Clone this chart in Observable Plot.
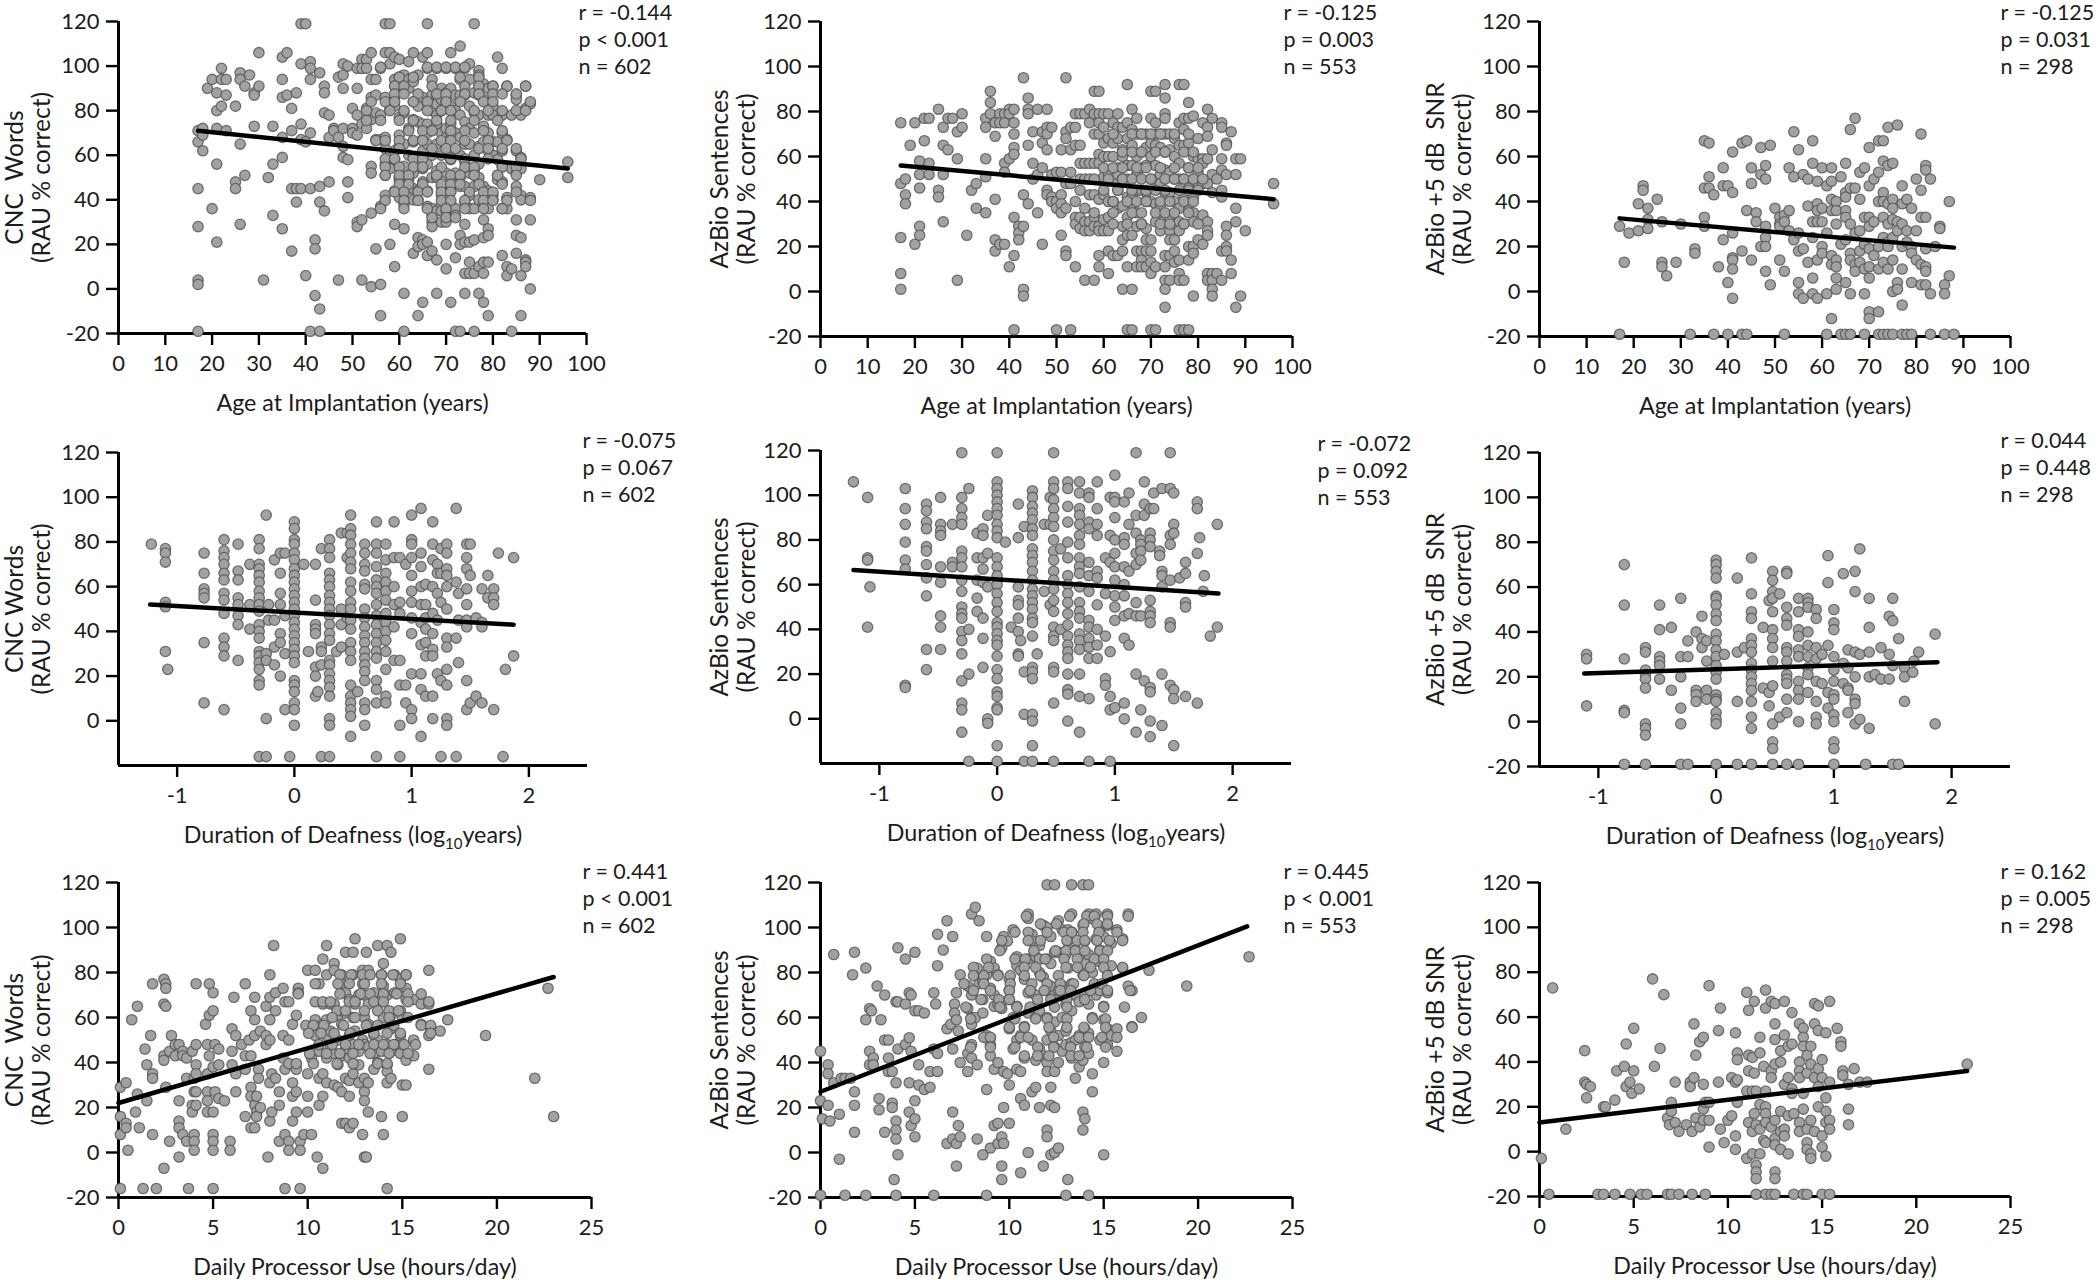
<!DOCTYPE html>
<html>
<head>
<meta charset="utf-8">
<script src="https://cdn.jsdelivr.net/npm/d3@7"></script>
<script src="https://cdn.jsdelivr.net/npm/@observablehq/plot@0.6"></script>
<style>
html,body{margin:0;padding:0;background:#fff}
#root{position:relative;width:2100px;height:1280px;overflow:hidden;background:#fff}
#root svg{position:absolute;overflow:visible;background:transparent}
</style>
</head>
<body>
<div id="root"></div>
<script>
// Each series: [x value, [y values read at that x]]
const cncAge=[[17,[71,66,45,28,4,2,-19]],[18,[72,69,62]],[19,[90]],[20,[94,36]],[21,[88,80,72,56,21]],[22,[99,94,82]],[23,[94,87,71]],[25,[82,48,45]],[26,[97,94,65,29]],[27,[91,51]],[28,[96]],[29,[88,87,73]],[30,[106,91]],[31,[4]],[32,[50]],[33,[73,56,33]],[35,[104,94,86,68,59,27]],[36,[106,87]],[37,[81,71,45,17]],[38,[88,45,39]],[39,[119,101,74,67,45]],[40,[119,66,6]],[41,[102,99,94,70,45,-19]],[42,[22,18,-3]],[43,[97,46,39,-9,-19]],[44,[91,88,79,35]],[45,[78,68,48]],[46,[72,71]],[47,[95,68,4]],[48,[101,96,90,72,64,59]],[49,[100,58,48,41]],[50,[81,72,70]],[51,[99,90,78,69,30,28]],[52,[103,99,74,31,4]],[53,[103,99,81,72]],[54,[106,94,86,76,55,52,34,1]],[55,[94,87,79,67,18]],[56,[99,78,67,37,2,-12]],[57,[119,106,86,68,63,56,51,42]],[58,[119,106,101,81,60,54,20]],[59,[104,94,91,86,82,62,58,44,29,10]],[60,[103,95,92,77,69,64,50,49,41]],[61,[96,90,79,65,55,43,38,27,-2,-19]],[62,[102,94,90,72,60,49,47,42]],[63,[106,93,84,76,66,59,52,45,40,16]],[64,[96,82,75,57,44,40,23,19,-12]],[65,[104,86,74,67,62,54,48,22,20,-6]],[66,[119,106,99,84,74,70,65,56,44,37,21,15]],[67,[94,87,80,71,60,50,36,33,30,28,17]],[68,[99,87,83,78,74,65,53,50,35,13,-2]],[69,[90,85,80,70,60,46,42,38,35,30]],[70,[99,88,84,72,68,64,52,40,35,30,20,9]],[71,[106,90,82,74,70,58,49,46,44,38,-6]],[72,[99,87,80,70,62,52,36,33,14,-19]],[73,[109,94,87,78,68,60,50,46,24,20,-19]],[74,[99,87,75,65,57,46,39,29,21,7,-2]],[75,[101,94,82,72,65,52,42,36,21,12,7]],[76,[119,88,79,70,60,53,46,36,22,7,-19]],[77,[98,96,91,87,78,64,56,50,40,10,-2]],[78,[92,85,73,66,46,37,31,23,12,7,-6]],[79,[90,78,70,62,44,36,27,24,12,-12]],[80,[91,82,78,66,60,42,40]],[81,[104,66,58,51,49]],[82,[99,78,70,62,55,48,36,15]],[83,[91,67,41,36,10,6]],[84,[78,54,9,-19]],[85,[87,85,62,52,46,31,24,16]],[86,[78,59,54,42,40,23,6,-12]],[87,[91,81,13,12,10]],[88,[83,41,31,0]],[90,[49]],[96,[57,50]]];
const azAge=[[17,[75,48,24,8,1]],[18,[50,43,39]],[19,[65]],[20,[75,21]],[21,[58,52,46,29,25]],[22,[77,67]],[23,[77,57,52]],[25,[81,45,42]],[26,[73,65,52,31]],[27,[77,63]],[28,[77]],[29,[71,59,5]],[30,[79,73]],[31,[25]],[32,[45]],[33,[48,37]],[35,[77,73,59,51,35]],[36,[89,84,79]],[37,[75,69,41,23,18]],[38,[79,75,21]],[39,[79,75,57,53,21]],[40,[81,79,59,11]],[41,[81,75,70,64,61,33,16,-17]],[42,[29,26,23]],[43,[95,43,29,1,-2]],[44,[86,81,79,65,39]],[45,[71,57,50]],[46,[81,52,35]],[47,[71,66,55,21]],[48,[81,73,70,63,45,43]],[49,[73,52,42,40]],[50,[53,40,37,-17]],[51,[63,53,43,39,35,25]],[52,[95,71,68,48,37,18,16]],[53,[73,63,53,48,-17]],[54,[79,73,65,40,33,30,11]],[55,[79,65,57,50,45,33,28]],[56,[79,57,50,37,31,27,5]],[57,[81,75,57,50,43,31,27]],[58,[89,79,70,57,43,33,29,5]],[59,[89,79,75,70,61,57,41,29,27,16,11]],[60,[79,73,66,60,51,43,32,27]],[61,[79,68,60,52,40,33,27,18,8]],[62,[75,66,60,50,40,16]],[63,[79,73,68,55,52,45,37,16]],[64,[73,63,60,50,38,29,23,18,1]],[65,[92,75,68,56,50,42,33,25,11,-17]],[66,[81,72,65,56,42,39,25,1,-17]],[67,[77,70,60,52,45,35,29,18,11]],[68,[70,62,55,45,30,18,14,11]],[69,[70,64,56,44,40,28,23,18,11]],[70,[89,77,66,60,50,40,23,18,13,8,-17]],[71,[89,75,70,65,56,46,39,31,11,-17]],[72,[70,64,52,48,38,27]],[73,[92,86,79,77,70,62,54,44,33,16,11,5,1,-7]],[74,[70,63,53,44,33,27,23,16,5]],[75,[68,60,50,40,30,23,18,13]],[76,[92,75,65,57,50,37,31,27,14,8,5,-17]],[77,[92,77,72,65,50,42,30,5,-17]],[78,[84,77,66,55,46,36,20,14,-17]],[79,[78,60,50,42,35,31,20,17,-2]],[80,[68,59,53,48,23]],[81,[75,59,57,48,34,21]],[82,[81,73,69,59,48,31,27,25,8,5]],[83,[77,63,52,44,8,5,1,-2]],[84,[50,8]],[85,[75,73,59,54,45,42,18,5]],[86,[66,65,52,29,25,20,18]],[87,[71,14,8]],[88,[59,52,37,31,-7]],[89,[59,-2]],[90,[27]],[96,[48,39]]];
const snrAge=[[17,[29,-19]],[18,[13]],[19,[26]],[21,[39,27]],[22,[47,45]],[23,[37,32,28]],[25,[41]],[26,[31,13,11]],[27,[7]],[29,[13]],[30,[30]],[32,[-19]],[33,[19,17]],[35,[67,46,33,29]],[36,[66,51,46]],[37,[43,-19]],[38,[11]],[39,[55,47,23]],[40,[47,4,-19]],[41,[62,44,26,15,14,10,-3]],[43,[66,18,-19]],[44,[67,36,-19]],[45,[55,48,14]],[46,[35,31]],[47,[64,52,20]],[48,[56,50,29,24,20,9]],[49,[65,3]],[50,[37]],[51,[33,30,29,14]],[52,[34,31,9,-19]],[53,[55,36,27]],[54,[71,51,23]],[55,[63,26,18,4,-1]],[56,[52,19,-3]],[57,[50,38,13]],[58,[67,57,31,24,6,-1]],[59,[49,39,36,31,14,-3]],[60,[55,37,31,20,17]],[61,[47,26,-1,-19]],[62,[55,49,41,36,16,12,-12]],[63,[40,36,30,14,11,6,1]],[64,[51,21,-19]],[65,[57,44,42,36,33,23,4,-19]],[66,[72,46,30,17,14,-1,-19]],[67,[77,46,26,12,9]],[68,[53,41,27,18,13]],[69,[55,33,21,10,-1,-19]],[70,[64,47,33,29,19,11,6,-9,-12]],[71,[50,31,16]],[72,[67,53,40,20,10,-9,-19]],[73,[67,58,44,40,33,24,13,-19]],[74,[73,56,39,30,22,20,10,-19]],[75,[57,41,37,32,24,14,0,-19]],[76,[74,31,27,4,1]],[77,[47,39,30,20,10,-6,-19]],[78,[41,27,22,-19]],[79,[37,20,17,4,-19]],[80,[50,27,14]],[81,[70,45,33,12,3]],[82,[56,54,33,19,11,9,3]],[83,[50,-1,-19]],[84,[20]],[85,[29,28]],[86,[3,-1,-19]],[87,[40,7]],[88,[-19]]];
const cncDur=[[-1.22,[79]],[-1.1,[77,75,71,53,51,31]],[-1.08,[23]],[-0.77,[75,66,59,57,55,35,8]],[-0.6,[81,76,73,70,66,63,57,54,48,37,33,29,5]],[-0.48,[79,67,63,55,52,47,43,27]],[-0.38,[70,52,41]],[-0.3,[81,77,70,68,65,62,58,55,52,49,43,40,37,31,29,26,23,18,16,-16]],[-0.24,[92,30,27,1,-16]],[-0.22,[52,45]],[-0.17,[72,45,33,25]],[-0.12,[75,66,57,52,39,35,20]],[-0.08,[75,47,30,5]],[-0.04,[-16]],[0,[89,86,81,79,75,72,68,65,62,59,56,53,50,47,44,41,38,35,32,29,26,18,16,13,8,5,-2]],[0.08,[70]],[0.12,[31]],[0.18,[70,54,43,41,39,24,20,11]],[0.2,[13]],[0.23,[77,33,31,25,-16]],[0.3,[81,77,73,66,63,60,56,53,50,47,43,39,36,27,25,21,18,15,11,1,-2,-16]],[0.36,[31]],[0.4,[84,50,43,33]],[0.45,[84,73,46]],[0.48,[92,86,83,79,75,71,68,62,58,53,50,45,41,35,31,27,16,11,8,5,2,-7]],[0.54,[13]],[0.6,[79,75,70,67,61,59,50,46,42,38,35,31,28,25,22,18,8,5,-2]],[0.7,[89,79,75,69,63,60,57,52,47,43,39,35,31,28,18,14,8,-16]],[0.78,[79,72,66,62,58,54,48,44,40,36,31,23,11,8]],[0.85,[89,73,60,52,42,27]],[0.9,[73,53,48,27,16,-2,-16]],[0.95,[70,16,8]],[1,[92,81,79,73,65,58,53,46,39,21,5,1]],[1.08,[95,75,69,60,52,44,34,21,14,-7]],[1.12,[61,52,46,41,35,29,11]],[1.18,[89,79,72,60,48,39,32,29,11,1]],[1.22,[70,66,57,45,21]],[1.25,[77,66,53,18,-16]],[1.3,[79,75,68,65,60,50,37,33,23,16,1,-2]],[1.38,[95,62,37,-16]],[1.4,[57,45,26]],[1.47,[79,73,68,59,52,45,42,18,5]],[1.5,[79,65,8]],[1.55,[46,11]],[1.6,[59,44,42,8]],[1.65,[65,55]],[1.7,[59,55,52,5]],[1.74,[75]],[1.78,[-16]],[1.8,[23]],[1.87,[73,29]]];
const azDur=[[-1.22,[106]],[-1.1,[99,72,71,41]],[-1.08,[59]],[-0.78,[103,94,87,79,71,67,15,14]],[-0.6,[96,93,88,85,77,75,69,63,55,31,22]],[-0.48,[99,87,84,82,68,61,46,41,31]],[-0.38,[87,70,68]],[-0.3,[119,99,94,90,87,75,72,68,62,57,50,47,45,39,35,29,17,7,4,-6]],[-0.24,[103,40,20,-19]],[-0.17,[83,72,62,54,48]],[-0.12,[85,82,72,67,61,45,36,23]],[-0.08,[91,74,59,0,-2]],[0,[119,106,103,100,97,94,91,87,84,81,72,68,64,60,56,52,48,43,41,38,35,33,28,22,18,12,10,5,4,-12,-19]],[0.07,[79]],[0.12,[41]],[0.18,[96,81,59,53,51,45,39,29,28]],[0.2,[35]],[0.23,[86,21,2,-19]],[0.3,[102,99,95,92,89,85,82,76,73,70,66,62,58,55,52,49,45,43,37,23,21,18,2,-1,-12,-19]],[0.34,[29]],[0.4,[87,57]],[0.45,[99,87,51]],[0.48,[119,106,103,98,94,90,86,80,75,71,66,62,58,53,48,41,37,35,23,21,7,-19]],[0.54,[76,40]],[0.6,[106,103,95,88,79,72,64,60,56,52,47,42,37,33,30,27,20,13,11,-1]],[0.7,[106,101,94,91,87,82,78,72,68,65,59,52,48,45,38,35,31,20,10,-6]],[0.78,[101,99,88,85,70,64,57,44,41,36,32,27,9,-19]],[0.85,[106,94,87,82,66,63,51,40,33,27]],[0.92,[72,56,37,18,15]],[0.96,[99,82,70,30,10,4,-19]],[1,[109,99,97,90,80,74,68,62,55,50,44,5]],[1.08,[97,81,78,68,60,55,46,36,7,0]],[1.12,[101,87,66,47,33]],[1.18,[119,91,83,74,69,52,46,20,-6]],[1.22,[80,78,75,71,46,4]],[1.25,[106,96,91,17]],[1.3,[94,83,80,77,53,48,46,43,14,12,-1,-8]],[1.33,[101,94]],[1.38,[75,73]],[1.4,[103,66,64,59,20,-3]],[1.47,[119,103,82,78,62,43,41,15]],[1.5,[101,87,83,13,9,-12]],[1.55,[63]],[1.6,[70,65,52,50,10]],[1.7,[97,94,74,7]],[1.72,[81]],[1.75,[57]],[1.76,[64]],[1.81,[37]],[1.87,[87,41]]];
const snrDur=[[-1.1,[30,28,7]],[-0.78,[70,52,28,5,4,-19]],[-0.6,[33,31,23,21,19,15,-1,-3,-6,-19]],[-0.48,[52,41,29,27,25,19]],[-0.38,[42,14]],[-0.3,[55,29,20,6,-1,-19]],[-0.24,[36,29,-19]],[-0.17,[40,14,12,9]],[-0.12,[47,37,33]],[-0.08,[36,27,14,10]],[0,[72,70,67,64,56,55,52,48,45,39,36,32,29,25,22,19,12,10,9,4,1,-1,-19]],[0.07,[30]],[0.18,[64,31,9,-19]],[0.24,[33]],[0.3,[73,57,49,46,37,34,31,26,23,20,17,14,9,2,-3,-19]],[0.4,[42,15]],[0.45,[54,13,7]],[0.48,[67,63,58,55,49,41,37,33,27,16,-1,-9,-12,-19]],[0.54,[57,2]],[0.6,[67,66,51,46,43,33,31,27,21,19,17,10,4,-19]],[0.7,[55,49,41,38,32,29,18,14,10,0,-19]],[0.78,[55,53,51,40,34,29,24,21,13]],[0.85,[50,46,33,28,18,9,2,-1]],[0.9,[30,17]],[0.95,[74,62,34,13,6]],[1,[50,44,41,29,23,18,12,10,3,0,-9,-12,-19]],[1.08,[66,26,17]],[1.12,[32,24,15,14,4]],[1.18,[67,58,31,20,10,8,-1]],[1.22,[77,30,1]],[1.27,[-19]],[1.3,[55,42,31,20,-3]],[1.35,[21]],[1.4,[33,19]],[1.47,[47,30,19]],[1.5,[55,45,25,-19]],[1.55,[37,-19]],[1.6,[24,20,9]],[1.67,[22]],[1.68,[27]],[1.72,[31]],[1.86,[39,-1]]];
const cncUse=[[0.1,[29,16,8,-16]],[0.4,[31,13,11]],[0.5,[1]],[0.7,[59]],[0.9,[18]],[1,[65,26]],[1.1,[11]],[1.3,[-16]],[1.4,[46]],[1.5,[23,39]],[1.7,[52]],[1.8,[75,35,33,8]],[2,[-16]],[2.4,[77,66,43,41,-7]],[2.5,[75,73,65,29]],[2.7,[45,5]],[2.8,[52]],[3,[48,43]],[3.2,[48,23,14,11,-2]],[3.4,[45,43,8]],[3.6,[42,33,5]],[3.7,[-16]],[3.9,[45,21,18]],[4,[33,27,8,5,1]],[4.1,[75,48,39,35,27,21]],[4.6,[57]],[4.7,[48,35,27,23,18]],[4.8,[75,61,43]],[5,[71,63,38,18,8,5,1,-16]],[5.1,[48,27]],[5.3,[46,39,24]],[5.6,[23]],[5.9,[5,1]],[6,[55,45,39]],[6.1,[69]],[6.2,[52,35,27]],[6.5,[48]],[6.7,[75,43,37,16]],[6.9,[50]],[7,[63,43,29,25,11]],[7.2,[69,59,52,21,11]],[7.3,[25,18,16]],[7.4,[37,33]],[7.5,[54,20]],[7.8,[65,52,48]],[7.9,[-2]],[8,[79,69,59,50,31,14]],[8.1,[35,18]],[8.2,[92]],[8.3,[71,63,33]],[8.5,[27,21,5]],[8.7,[73,52,42]],[8.8,[67,37,8,-16]],[9,[67,50,5,1]],[9.2,[57,39,31,25,14]],[9.4,[61,39,37,27,18]],[9.5,[73,71]],[9.6,[5,1,-16]],[9.8,[8]],[10,[81,56,35,25,18]],[10.2,[42,8]],[10.4,[81,59,56,52]],[10.5,[-2]],[10.6,[75,45,33,21]],[10.8,[86,66,57,35,25,-7]],[11,[92,79,59,52,42,31]],[11.2,[66,54,47]],[11.4,[84,81,66,44,30]],[11.6,[61,50,39,29]],[11.8,[79,75,57,43,27,13]],[12,[89,71,62,46,33,13]],[12.2,[68,52,42,32,25,11]],[12.4,[89,79,60,48,35,13]],[12.5,[95,66,54]],[12.7,[70,45,39,31]],[12.9,[81,75,50,8]],[13,[70,60,48,33,27,23,-2]],[13.1,[89,-2]],[13.2,[81,66,57,47,31,18]],[13.5,[71,52,44,37]],[13.7,[92,66,50,40]],[13.9,[79,68,45,16]],[14,[84,74,60,8]],[14.2,[92,70,48,39,36,31,-16]],[14.4,[89,61,55,45,33]],[14.6,[79,71,48]],[14.9,[95,77,63,52,44]],[15,[60,48,30,16]],[15.2,[79,73,68,41,30]],[15.6,[68,50,43]],[16,[66,57]],[16.4,[81,66,52,37]],[16.5,[55]],[17,[54]],[17.4,[59]],[19.4,[52]],[22,[33]],[22.7,[73]],[23,[16]]];
const azUse=[[0,[45,23,-19]],[0.1,[15]],[0.4,[39,35,21]],[0.5,[14]],[0.7,[88,31]],[1,[17,-3]],[1.1,[33]],[1.3,[33,-19]],[1.6,[33]],[1.7,[79]],[1.8,[89,27,21,9]],[2.4,[82,59,-19]],[2.6,[64,45,39]],[2.7,[63]],[2.8,[42,39]],[3,[74]],[3.1,[24,19]],[3.2,[59]],[3.4,[70,50,9]],[3.6,[50,42,36]],[3.8,[36,22,20]],[3.9,[-12]],[4,[67,31,14,10,6,-19]],[4.1,[91,67,46,-1]],[4.5,[86,66,48]],[4.7,[71,51,31,18]],[4.8,[70,45,12]],[5,[89,63,23,15,7]],[5.2,[63,39,30]],[5.5,[62,28]],[5.8,[36,29]],[6,[71,46,-19]],[6.1,[66]],[6.2,[97,83,44,36]],[6.5,[90]],[6.7,[103,55,4]],[6.9,[57]],[7,[96,46,18,6]],[7.1,[66,62]],[7.2,[71,59,4,-6]],[7.3,[54,12]],[7.4,[79,40,7]],[7.8,[74,64,44,36]],[8,[106,70,60,57,48,42]],[8.2,[109,79,60]],[8.3,[82,39,6]],[8.4,[103,75]],[8.6,[76,68,62,-1]],[8.8,[96,79,52,28,-19]],[9,[85,73,51,48,43,2]],[9.2,[82,70,65,37,12]],[9.4,[79,66,40,13,4]],[9.6,[91,64,7,-6,-12]],[9.7,[96,36,20,4]],[9.9,[94,35]],[10,[77,72,68,55,30,13]],[10.2,[99,60,46]],[10.4,[87,83,65,50,37]],[10.6,[81,52,36,24,-9]],[10.8,[77,56,42,21]],[11,[106,104,86,71,62,0]],[11.2,[97,94,71,50,27]],[11.4,[87,70,60,41,29]],[11.6,[92,80,63,46,20]],[11.8,[101,78,43,-6]],[12,[119,100,86,72,60,50,40,36,10,7]],[12.2,[96,84,74,54,29,21,-1]],[12.4,[119,89,70,58,47,36,20,0]],[12.6,[103,89,72,52,40,2]],[12.8,[99,74,60,45]],[13,[88,66,54,48,-19]],[13.1,[99,94,82,-12]],[13.3,[119,106,98,75,63,49,42]],[13.5,[90,70,50,33]],[13.7,[87,67,52,38]],[13.9,[119,101,79,41,18,10]],[14,[94,84,70,55,47,15]],[14.2,[119,106,88,66,53,44,-19]],[14.4,[104,80,60,35,27]],[14.6,[106,95,85,70]],[14.8,[99,90,72,50]],[15,[96,88,65,59,40,-1]],[15.2,[106,101,71,55,48]],[15.4,[93,83,52]],[15.7,[99,55,45]],[16,[95,82]],[16.3,[106,74]],[16.5,[72,56]],[17,[60]],[17.4,[81]],[19.4,[74]],[22.7,[87]]];
const snrUse=[[0.1,[-3]],[0.5,[-19]],[0.7,[73]],[1.4,[10]],[2.4,[45,31]],[2.5,[30,24]],[2.7,[29]],[3.1,[-19]],[3.4,[20,-19]],[3.5,[20]],[4,[23,-19]],[4.1,[36]],[4.5,[38]],[4.6,[48,29]],[4.8,[31,-19]],[4.9,[26]],[5,[55,36]],[5.3,[28]],[5.4,[-19]],[5.7,[-19]],[6,[77]],[6.1,[38]],[6.4,[46]],[6.6,[70]],[6.8,[15,-19]],[6.9,[12]],[7,[22,18,-19]],[7.2,[31,13]],[7.4,[9,-19]],[7.8,[12]],[8,[31,29]],[8.1,[9,-19]],[8.2,[57,33]],[8.3,[43,15]],[8.5,[49,11]],[8.7,[51,30,19,14]],[8.8,[22,-19]],[9,[74,22,14,2]],[9.5,[54,31]],[9.6,[64,10]],[9.8,[4]],[10,[14]],[10.2,[33,16]],[10.4,[53,31,7,1]],[10.5,[44,41,32,22]],[11,[71,27,-3]],[11.1,[63,43,36,13]],[11.3,[42,27,9,-1]],[11.4,[67,35,17]],[11.5,[27,12,-6,-9,-12,-19]],[11.7,[51,44,21,10,-1]],[11.9,[38,5]],[12,[72,64,27,20,17,13,4,-19]],[12.3,[67,36,33,11,-19]],[12.5,[66,57,50,39,14,6,3,-9,-12,-19]],[12.8,[45,40,18,9,1]],[13,[67,52,30,10,7]],[13.2,[47,33,16,-1]],[13.4,[62,48,28,26]],[13.5,[17,-19]],[13.8,[57,40,36,33,13,9]],[14,[55,51,47,26,19,-19]],[14.2,[43,35,10,4,1,-19]],[14.4,[47,39,14,-1,-3]],[14.6,[66,57,33,9]],[14.8,[65,54,37,29,20]],[15,[41,33,7,2,-19]],[15.2,[53,24,18,13,-2]],[15.4,[67,31,14,10,-19]],[15.8,[55]],[16,[49,47]],[16.1,[36,34]],[16.4,[30,19,12]],[16.7,[37]],[17,[31]],[17.4,[31]],[22.7,[39]]];

// Further points of the dense clusters, read row by row: [y value, [x values on that row]]
const cncAgeDense=[[99.5,[56,66,68,70,72,74]],[95,[60,63,73,77]],[91,[59,61,67,74,77,80,83,87]],[87.5,[59,61,64,68,70,74,77,80,82,85]],[84,[54,57,59,63,66,70,73,78,80,88]],[80,[53,58,61,66,69,71,76,79,82,85,87]],[75.6,[53,56,60,63,68,71,76,81]],[71,[62,65,67,71,74,78,82]],[66.6,[55,57,60,63,65,69,71,74,79,83]],[63,[60,67,70,72,77,79,82,85]],[58.4,[57,59,63,65,71,74,79,86]],[54.7,[57,60,63,65,69,74,76,82,85]],[51,[57,60,62,68,71,73,76,81,85]],[47,[60,62,65,69,71,73,77,82]],[43.5,[59,61,64,66,69,71,75,78,80,85]],[39.7,[57,61,64,69,71,74,78,80,83,88]],[36,[56,61,66,70,74,78,82]],[32,[67,70,72]]];
const azAgeDense=[[70,[62,66,68,70,72,75,78]],[62,[64,66,68,71,73,77,79]],[55,[60,62,64,67,69,72,75,78,80]],[50,[58,61,64,66,68,70,73,75,77,79,81]],[45,[60,63,66,69,71,73,76,78,80]],[40,[62,65,67,69,72,74,77,79]],[35,[58,62,66,68,71,73,75,78]],[30,[62,65,68,72,74,77,80]]];
const cncUseDense=[[79,[11.7,12.3,12.9,13.3,13.9,14.5,15.2]],[75,[10.4,11.6,12.2,13,13.9,14.9]],[70.5,[9.5,11.7,12.8,13.3,14,14.7,15.3,16]],[67,[10.4,10.8,11.2,12.2,12.5,13.5,14,15.3,16.4]],[63,[11.55,12,13,13.7,14.3,14.8]],[60,[11.3,12.5,14.3,15.3]],[56.5,[9.9,10.3,10.85,11.9,13.1,13.7,14.55,16,16.5]],[53,[10.05,10.7,11.4,12.25,13.5,14.2,14.9,16.5]],[48,[10.6,11.3,12,12.7,13.5,14,14.55,15.1,15.7]],[44,[10.1,11,11.7,12.4,13.3,14.3,15.3]],[39.5,[9,9.4,10.3,11.55,12.4,13.7,14.2]]];
const azUseDense=[[105,[10.9,13.2,14.1,14.5,15.2,16.3]],[101.6,[11.65,12.5,13.95,14.65,15.2]],[97.9,[10.3,11,12,12.9,13.3,13.9,14.75,15.7]],[94.2,[9.6,11,11.65,13.05,13.6,14,14.65,15.3,16]],[89.7,[9.5,11.3,12.45,13,13.5,14,14.8,15.2]],[86,[8.8,10.3,10.85,11.6,11.9,12.9,13.6,14.5,15]],[82.3,[8.1,8.9,10.8,11.4,13,13.6,14.3,15,16]],[78.6,[8.1,8.65,9.4,10.05,10.8,11.65,12.6,13.95,15.2]],[75,[7.6,8.65,10.05,11.2,12,12.7,13.4,14.5,14.9]],[72,[8.1,9,10,11.1,11.85,12.7,13.25,14.3,15.2,16.4]],[68,[8.5,9.45,10,11.5,12.2,13.05,14]],[64.6,[7.7,9.5,10.4,11.1,12.4,13.05,15,16.1]],[59.4,[7.95,10.3,11.4,12,13.05,14.4,15.1]],[55.6,[10,10.8,12.1,13.05,13.95,15.1,16.5]],[51.2,[8.65,9,10.6,11,12.35,13.7,14.2,14.9,15.7]],[46.8,[7.95,9,10.3,11.5,12.35,13.25,14.1,15.1]],[43,[10.8,11.5,12.1,13.25,13.7]]];

// Fitted lines: end points
const fits=[[[17,71],[96,54]],[[17,56],[96,41]],[[17,32.5],[88,19.5]],[[-1.23,52],[1.87,43]],[[-1.22,66.5],[1.88,56]],[[-1.12,21.5],[1.88,26.5]],[[0,22],[23,78]],[[0,27],[22.6,100.5]],[[0,13],[22.7,36]]];
const seriesList=[cncAge,azAge,snrAge,cncDur,azDur,snrDur,cncUse,azUse,snrUse];
const denseList=[cncAgeDense,azAgeDense,[],[],[],[],cncUseDense,azUseDense,[]];

const stats=["r = -0.144\np < 0.001\nn = 602","r = -0.125\np = 0.003\nn = 553","r = -0.125\np = 0.031\nn = 298","r = -0.075\np = 0.067\nn = 602","r = -0.072\np = 0.092\nn = 553","r = 0.044\np = 0.448\nn = 298","r = 0.441\np < 0.001\nn = 602","r = 0.445\np < 0.001\nn = 553","r = 0.162\np = 0.005\nn = 298"];
const yNames=["CNC  Words","AzBio Sentences","AzBio +5 dB  SNR","CNC Words","AzBio Sentences","AzBio +5 dB  SNR","CNC  Words","AzBio Sentences","AzBio +5 dB SNR"];
const xNames=["Age at Implantation (years)","Duration of Deafness (log10years)","Daily Processor Use (hours/day)"];
const yUnit="(RAU % correct)";
const xDomains=[[0,100],[-1.5,2.5],[0,25]];
const xTickSets=[[0,10,20,30,40,50,60,70,80,90,100],[-1,0,1,2],[0,5,10,15,20,25]];
const yTicksFull=[-20,0,20,40,60,80,100,120];
const yTicksNoBase=[0,20,40,60,80,100,120];

// Layout (pixel box of each plot frame, label and statistic offsets)
const layout=[
 {l:118,r:586,t:21,b:333,sx:578,sy:-20,yl:-91},
 {l:820,r:1292,t:21,b:336,sx:1283,sy:-20,yl:-88},
 {l:1539,r:2010,t:21,b:336,sx:2000,sy:-20,yl:-91},
 {l:118,r:587,t:452,b:765,sx:582,sy:-23,yl:-91},
 {l:820,r:1291,t:450,b:763,sx:1317,sy:-18,yl:-88},
 {l:1539,r:2010,t:452,b:766,sx:2000,sy:-23,yl:-91},
 {l:118,r:591,t:882,b:1197,sx:582,sy:-22,yl:-91},
 {l:820,r:1292,t:882,b:1197,sx:1283,sy:-22,yl:-88},
 {l:1539,r:2010,t:882,b:1196,sx:2000,sy:-22,yl:-91}
];

const root=document.getElementById("root");
const FONT="Lato, Carlito, 'Open Sans', sans-serif";
const mL=110, mR=10, mT=20, mB=90;
const INK="#1c1c1c";

seriesList.forEach((series,i)=>{
  const L=layout[i], row=Math.floor(i/3);
  const points=series.flatMap(([x,ys])=>ys.map(y=>({x,y})))
    .concat(denseList[i].flatMap(([y,xs])=>xs.map(x=>({x,y}))));
  const xD=xDomains[row];
  const yT=(i===3||i===4)?yTicksNoBase:yTicksFull;
  const chart=Plot.plot({
    width:(L.r-L.l)+mL+mR,
    height:(L.b-L.t)+mT+mB,
    marginLeft:mL,marginRight:mR,marginTop:mT,marginBottom:mB,
    x:{domain:xD,label:null},
    y:{domain:[-20,120],label:null},
    style:{fontFamily:FONT,fontSize:"22px",color:INK,background:"transparent",whiteSpace:"pre",overflow:"visible"},
    marks:[
      Plot.axisX({ticks:xTickSets[row],tickSize:12,tickPadding:10,strokeWidth:2.4,stroke:"#000",label:null,tickFormat:d=>String(d),fontSize:22}),
      Plot.axisY({ticks:yT,tickSize:12,tickPadding:7,strokeWidth:2.4,stroke:"#000",label:null,tickFormat:d=>String(d),fontSize:22}),
      Plot.ruleY([-20],{stroke:"#000",strokeWidth:3}),
      Plot.ruleX([xD[0]],{stroke:"#000",strokeWidth:3}),
      Plot.dot(points,{x:"x",y:"y",r:5.2,fill:"#a2a2a2",stroke:"#555",strokeWidth:1.3,strokeOpacity:0.8}),
      Plot.line(fits[i],{x:d=>d[0],y:d=>d[1],stroke:"#000",strokeWidth:4.5}),
      Plot.text([yNames[i]+"\n"+yUnit],{frameAnchor:"left",rotate:-90,dx:L.yl,textAnchor:"middle",lineAnchor:"middle",lineHeight:1.12,fontSize:24.5,fill:INK}),
      Plot.text([xNames[row]],{frameAnchor:"bottom",dy:70,lineAnchor:"middle",textAnchor:"middle",fontSize:23.3,fill:INK}),
      Plot.text([stats[i]],{frameAnchor:"top-left",dx:L.sx-L.l,dy:L.sy,textAnchor:"start",lineAnchor:"top",lineHeight:1.24,fontSize:21.5,fill:INK})
    ]
  });
  chart.style.left=(L.l-mL)+"px";
  chart.style.top=(L.t-mT)+"px";
  // subscript in the log10 label
  chart.querySelectorAll("text").forEach(t=>{
    if(t.textContent.includes("log10years")){
      const NS="http://www.w3.org/2000/svg";
      t.textContent="";
      const a=document.createElementNS(NS,"tspan");a.textContent="Duration of Deafness (log";
      const b=document.createElementNS(NS,"tspan");b.textContent="10";b.setAttribute("dy","6");b.setAttribute("font-size","15");
      const c=document.createElementNS(NS,"tspan");c.textContent="years)";c.setAttribute("dy","-6");
      t.append(a,b,c);
    }
  });
  root.appendChild(chart);
});
</script>
</body>
</html>
